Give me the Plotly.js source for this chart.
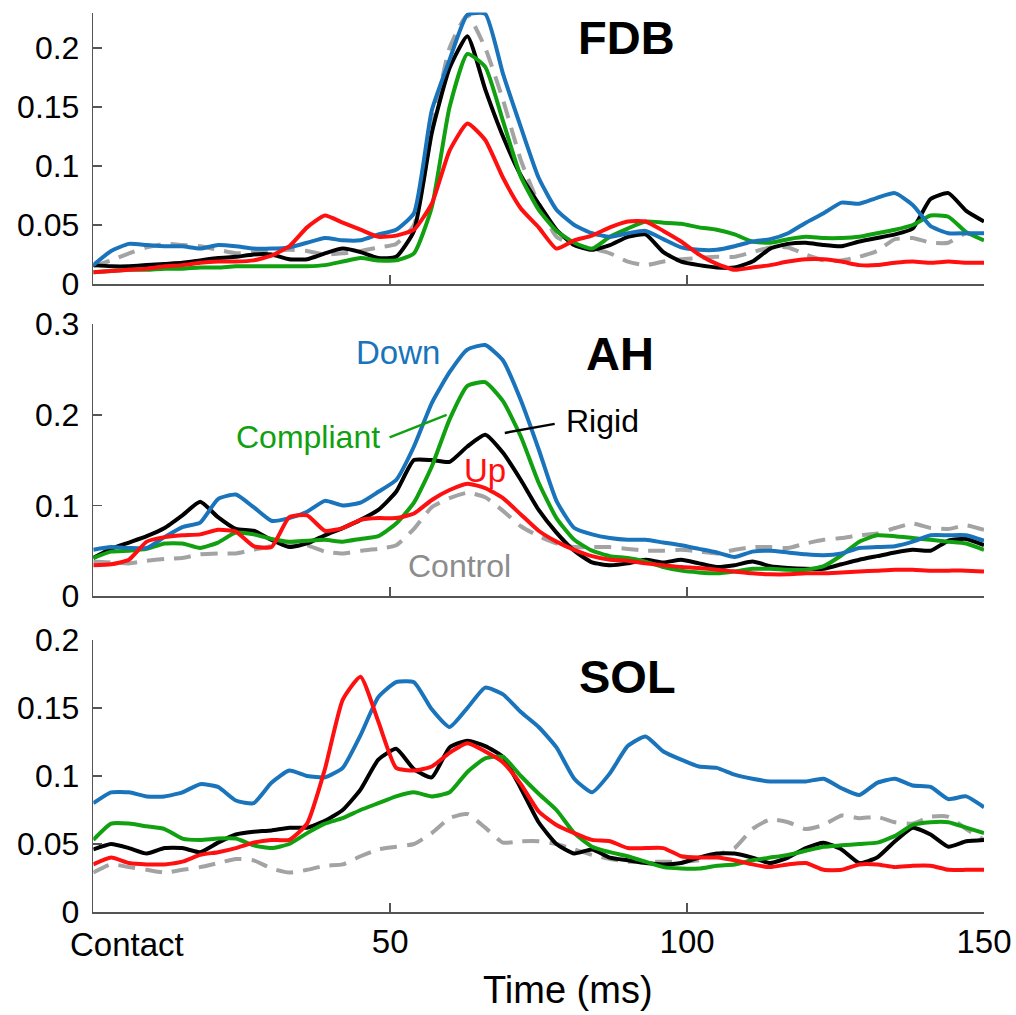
<!DOCTYPE html>
<html>
<head>
<meta charset="utf-8">
<script src="https://cdn.plot.ly/plotly-3.0.1.min.js"></script>
<style>html,body{margin:0;padding:0;background:#fff;}#plot{width:1016px;height:1015px;}</style>
</head>
<body>
<div id="plot"></div>
<script>
// Time grid (ms after contact)
const time = [0,3,6,9,12,15,18,21,24,27,30,33,36,39,42,45,48,51,54,57,60,63,66,69,72,75,78,81,84,87,90,93,96,99,102,105,108,111,114,117,120,123,126,129,132,135,138,141,144,147,150];

const seriesNames = ["Control","Rigid","Compliant","Down","Up"];

// FDB
const fdbControl = [0.015,0.020,0.026,0.031,0.034,0.033,0.032,0.029,0.026,0.027,0.028,0.029,0.028,0.025,0.026,0.028,0.031,0.034,0.050,0.130,0.200,0.228,0.200,0.156,0.105,0.068,0.040,0.033,0.030,0.026,0.019,0.016,0.019,0.021,0.022,0.023,0.023,0.027,0.031,0.031,0.025,0.020,0.020,0.023,0.028,0.038,0.039,0.035,0.035,0.043,0.038];
const fdbRigid = [0.016,0.015,0.015,0.016,0.017,0.018,0.020,0.022,0.023,0.025,0.025,0.021,0.021,0.026,0.030,0.027,0.022,0.023,0.045,0.128,0.183,0.210,0.165,0.125,0.092,0.068,0.046,0.033,0.029,0.033,0.040,0.042,0.027,0.019,0.016,0.014,0.014,0.019,0.030,0.034,0.035,0.033,0.032,0.036,0.039,0.042,0.047,0.072,0.077,0.062,0.053];
const fdbCompliant = [0.010,0.011,0.012,0.012,0.013,0.013,0.014,0.014,0.015,0.015,0.015,0.015,0.015,0.016,0.019,0.022,0.020,0.020,0.026,0.065,0.150,0.195,0.184,0.138,0.091,0.063,0.045,0.035,0.030,0.040,0.047,0.053,0.052,0.051,0.048,0.046,0.042,0.036,0.035,0.038,0.040,0.039,0.039,0.040,0.043,0.046,0.050,0.058,0.057,0.044,0.037];
const fdbDown = [0.016,0.028,0.034,0.033,0.032,0.032,0.030,0.033,0.032,0.030,0.030,0.031,0.035,0.039,0.037,0.037,0.042,0.046,0.060,0.147,0.190,0.228,0.229,0.178,0.133,0.090,0.063,0.050,0.043,0.040,0.043,0.045,0.038,0.031,0.029,0.029,0.032,0.036,0.038,0.043,0.052,0.060,0.069,0.068,0.073,0.077,0.067,0.049,0.043,0.043,0.043];
const fdbUp = [0.010,0.011,0.012,0.013,0.015,0.016,0.018,0.019,0.019,0.020,0.024,0.032,0.048,0.058,0.052,0.046,0.040,0.041,0.046,0.068,0.113,0.136,0.122,0.090,0.064,0.048,0.030,0.037,0.041,0.048,0.053,0.053,0.045,0.036,0.025,0.017,0.012,0.014,0.016,0.019,0.021,0.021,0.019,0.016,0.016,0.018,0.019,0.018,0.019,0.018,0.018];

// AH
const ahControl = [0.038,0.037,0.036,0.039,0.041,0.042,0.046,0.047,0.047,0.051,0.055,0.058,0.056,0.049,0.047,0.050,0.052,0.056,0.074,0.098,0.108,0.114,0.109,0.094,0.077,0.066,0.058,0.054,0.054,0.054,0.052,0.050,0.050,0.051,0.049,0.047,0.051,0.054,0.054,0.053,0.058,0.062,0.064,0.067,0.069,0.075,0.080,0.075,0.074,0.078,0.073];
const ahRigid = [0.042,0.052,0.059,0.066,0.075,0.089,0.104,0.087,0.074,0.072,0.062,0.054,0.058,0.067,0.075,0.084,0.095,0.115,0.150,0.150,0.148,0.165,0.178,0.158,0.128,0.095,0.070,0.050,0.037,0.034,0.036,0.040,0.037,0.040,0.036,0.032,0.034,0.038,0.033,0.031,0.030,0.030,0.035,0.040,0.044,0.048,0.051,0.050,0.061,0.063,0.056];
const ahCompliant = [0.042,0.049,0.050,0.052,0.058,0.058,0.053,0.059,0.070,0.068,0.063,0.060,0.061,0.062,0.060,0.063,0.066,0.080,0.103,0.143,0.195,0.232,0.236,0.215,0.176,0.125,0.086,0.062,0.050,0.044,0.042,0.038,0.032,0.028,0.026,0.025,0.027,0.030,0.030,0.029,0.029,0.033,0.045,0.060,0.067,0.066,0.064,0.062,0.060,0.058,0.051];
const ahDown = [0.051,0.054,0.053,0.053,0.065,0.076,0.081,0.107,0.112,0.098,0.083,0.086,0.093,0.105,0.100,0.103,0.115,0.128,0.165,0.213,0.247,0.272,0.277,0.260,0.216,0.162,0.105,0.075,0.068,0.064,0.062,0.062,0.059,0.056,0.052,0.048,0.043,0.049,0.050,0.048,0.046,0.045,0.047,0.053,0.054,0.055,0.060,0.067,0.067,0.067,0.061];
const ahUp = [0.034,0.035,0.040,0.060,0.065,0.067,0.068,0.073,0.071,0.055,0.054,0.087,0.089,0.072,0.075,0.084,0.086,0.086,0.091,0.106,0.117,0.124,0.119,0.108,0.090,0.072,0.060,0.051,0.044,0.040,0.039,0.036,0.034,0.032,0.031,0.029,0.027,0.025,0.024,0.024,0.025,0.025,0.026,0.027,0.028,0.029,0.029,0.028,0.028,0.028,0.027];

// SOL
const solControl = [0.029,0.035,0.033,0.031,0.029,0.031,0.033,0.036,0.039,0.038,0.032,0.029,0.031,0.034,0.035,0.041,0.046,0.048,0.050,0.058,0.069,0.072,0.062,0.051,0.052,0.052,0.050,0.046,0.042,0.039,0.037,0.037,0.037,0.037,0.038,0.042,0.047,0.061,0.068,0.066,0.061,0.064,0.071,0.069,0.070,0.066,0.065,0.070,0.070,0.061,0.053];
const solRigid = [0.046,0.050,0.047,0.043,0.047,0.047,0.044,0.051,0.057,0.059,0.060,0.062,0.062,0.067,0.075,0.090,0.112,0.120,0.105,0.099,0.121,0.126,0.122,0.114,0.091,0.066,0.050,0.043,0.046,0.040,0.038,0.036,0.035,0.036,0.040,0.043,0.043,0.040,0.036,0.040,0.047,0.051,0.046,0.036,0.040,0.052,0.062,0.057,0.048,0.052,0.053];
const solCompliant = [0.053,0.065,0.065,0.063,0.061,0.054,0.053,0.054,0.054,0.049,0.047,0.050,0.058,0.065,0.069,0.075,0.080,0.085,0.088,0.085,0.088,0.103,0.113,0.114,0.100,0.087,0.075,0.058,0.048,0.044,0.041,0.037,0.033,0.032,0.032,0.034,0.035,0.038,0.040,0.042,0.045,0.048,0.049,0.050,0.051,0.056,0.064,0.066,0.066,0.062,0.058];
const solDown = [0.080,0.088,0.088,0.085,0.085,0.088,0.094,0.092,0.082,0.080,0.095,0.104,0.100,0.099,0.106,0.130,0.158,0.169,0.169,0.149,0.136,0.150,0.165,0.160,0.147,0.136,0.121,0.098,0.088,0.102,0.122,0.129,0.118,0.112,0.107,0.106,0.101,0.098,0.096,0.096,0.096,0.098,0.091,0.086,0.095,0.098,0.093,0.092,0.083,0.085,0.077];
const solUp = [0.035,0.040,0.036,0.035,0.035,0.037,0.042,0.044,0.047,0.051,0.053,0.053,0.065,0.105,0.156,0.173,0.140,0.106,0.104,0.107,0.117,0.124,0.118,0.110,0.094,0.074,0.064,0.058,0.053,0.052,0.047,0.047,0.047,0.041,0.040,0.040,0.038,0.035,0.033,0.035,0.036,0.031,0.031,0.035,0.035,0.033,0.034,0.034,0.031,0.031,0.031];

// Axis ticks
const xTickVals = [0,50,100,150];
const xTickText = ["Contact","50","100","150"];
const fdbTicks = [0,0.05,0.1,0.15,0.2];
const fdbTickText = ["0","0.05","0.1","0.15","0.2"];
const ahTicks = [0,0.1,0.2,0.3];
const ahTickText = ["0","0.1","0.2","0.3"];
const solTicks = [0,0.05,0.1,0.15,0.2];
const solTickText = ["0","0.05","0.1","0.15","0.2"];

const panelNames = ["FDB","AH","SOL"];
const panelData = [
  [fdbControl, fdbRigid, fdbCompliant, fdbDown, fdbUp],
  [ahControl, ahRigid, ahCompliant, ahDown, ahUp],
  [solControl, solRigid, solCompliant, solDown, solUp]
];

const colors = {Control:'#a3a3a3', Rigid:'#000000', Compliant:'#10a010', Down:'#1a74bb', Up:'#ff1010'};
const FONT = 'Arial, "Liberation Sans", Helvetica, sans-serif';

const traces = [];
panelData.forEach((set, p) => {
  set.forEach((vals, s) => {
    const name = seriesNames[s];
    traces.push({
      x: time, y: vals, type: 'scatter', mode: 'lines', name: name,
      xaxis: p === 0 ? 'x' : 'x' + (p + 1),
      yaxis: p === 0 ? 'y' : 'y' + (p + 1),
      line: {color: colors[name], width: 4, dash: name === 'Control' ? '17px,10px' : 'solid', shape: 'spline', smoothing: 0.5},
      showlegend: false, hoverinfo: 'skip'
    });
  });
});

const W = 1016, H = 1015;
const xDom = [93.3 / W, 984 / W];
function yDom(pyBottom, pyTop) { return [1 - pyBottom / H, 1 - pyTop / H]; }

function xAxis(anchor, showLabels) {
  return {
    domain: xDom, range: [0, 150], anchor: anchor,
    showline: true, linecolor: '#555', linewidth: 1.5, mirror: false,
    ticks: 'inside', ticklen: 9, tickwidth: 1.5, tickcolor: '#555',
    tickvals: xTickVals.slice(1), ticktext: showLabels ? xTickText.slice(1) : ['', '', ''],
    showticklabels: showLabels, showgrid: false, zeroline: false,
    tickfont: {family: FONT, size: 33, color: '#000'}, ticklabelstandoff: 0, fixedrange: true
  };
}
function yAxis(anchor, dom, range, tv, tt) {
  return {
    domain: dom, range: range, anchor: anchor,
    showline: true, linecolor: '#555', linewidth: 1.5,
    ticks: 'inside', ticklen: 9, tickwidth: 1.5, tickcolor: '#555',
    tickvals: tv, ticktext: tt, showgrid: false, zeroline: false,
    tickfont: {family: FONT, size: 32, color: '#000'}, ticklabelstandoff: 6, fixedrange: true
  };
}

const layout = {
  width: W, height: H,
  margin: {l: 0, r: 0, t: 0, b: 0},
  paper_bgcolor: '#fff', plot_bgcolor: 'rgba(0,0,0,0)',
  showlegend: false,
  xaxis: xAxis('y', false),
  xaxis2: xAxis('y2', false),
  xaxis3: xAxis('y3', true),
  yaxis: yAxis('x', yDom(284, 284 - 0.23 * 1180), [0, 0.23], fdbTicks, fdbTickText),
  yaxis2: yAxis('x2', yDom(596, 596 - 0.3 * 906), [0, 0.3], ahTicks, ahTickText),
  yaxis3: yAxis('x3', yDom(912, 912 - 0.2 * 1360), [0, 0.2], solTicks, solTickText),
  annotations: [
    {text: '<b>' + panelNames[0] + '</b>', x: 89.8, y: 0.209, xref: 'x', yref: 'y', showarrow: false, font: {family: FONT, size: 47, color: '#000'}},
    {text: '<b>' + panelNames[1] + '</b>', x: 88.7, y: 0.268, xref: 'x2', yref: 'y2', showarrow: false, font: {family: FONT, size: 47, color: '#000'}},
    {text: '<b>' + panelNames[2] + '</b>', x: 90.0, y: 0.173, xref: 'x3', yref: 'y3', showarrow: false, font: {family: FONT, size: 47, color: '#000'}},
    {text: 'Down', x: 51.3, y: 0.269, xref: 'x2', yref: 'y2', showarrow: false, font: {family: FONT, size: 33, color: colors.Down}},
    {text: 'Compliant', x: 36.1, y: 0.175, xref: 'x2', yref: 'y2', showarrow: false, font: {family: FONT, size: 32, color: colors.Compliant}},
    {text: 'Rigid', x: 85.8, y: 0.193, xref: 'x2', yref: 'y2', showarrow: false, font: {family: FONT, size: 32, color: '#000'}},
    {text: 'Up', x: 66.0, y: 0.139, xref: 'x2', yref: 'y2', showarrow: false, font: {family: FONT, size: 33, color: colors.Up}},
    {text: 'Control', x: 61.6, y: 0.033, xref: 'x2', yref: 'y2', showarrow: false, font: {family: FONT, size: 32, color: '#8c8c8c'}},
    {text: xTickText[0], x: 68 / W, y: 1 - 944 / H, xref: 'paper', yref: 'paper', xanchor: 'left', yanchor: 'middle', showarrow: false, font: {family: FONT, size: 33, color: '#000'}},
    {text: 'Time (ms)', x: 568 / W, y: 1 - 990 / H, xref: 'paper', yref: 'paper', xanchor: 'center', yanchor: 'middle', showarrow: false, font: {family: FONT, size: 38, color: '#000'}}
  ],
  shapes: [
    {type: 'line', xref: 'x2', yref: 'y2', x0: 49.9, y0: 0.175, x1: 59.5, y1: 0.200, line: {color: colors.Compliant, width: 2.5}},
    {type: 'line', xref: 'x2', yref: 'y2', x0: 69.3, y0: 0.180, x1: 77.7, y1: 0.190, line: {color: '#000', width: 2.5}}
  ]
};

Plotly.newPlot('plot', traces, layout, {staticPlot: true, displayModeBar: false});
</script>
</body>
</html>
